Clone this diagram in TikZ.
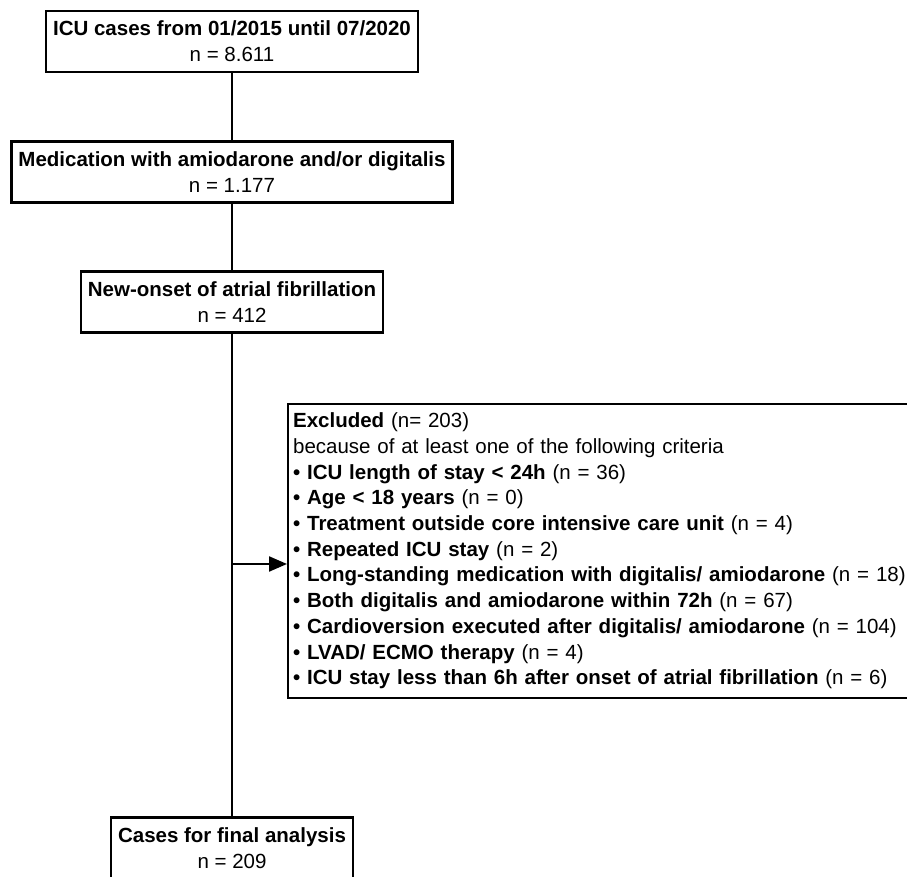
\documentclass[tikz,border=0pt]{standalone}
\usepackage{fontspec}
\setmainfont{Liberation Sans}
\usepackage{tikz}
\usetikzlibrary{arrows.meta, positioning, calc}

\tikzset{
    flowbox/.style={draw=black, line width=2.2pt, fill=white, align=center,
        inner xsep=7pt, inner ysep=2pt, minimum height=61pt,
        font=\fontsize{20.5}{25.7}\selectfont},
    exclbox/.style={draw=black, line width=2.2pt, fill=white, align=left, anchor=west,
        text width=614pt, inner xsep=5pt, minimum height=294pt,
        font=\fontsize{20.5}{25.7}\selectfont},
    flowline/.style={draw=black, line width=2.2pt},
}

\begin{document}
\begin{tikzpicture}[x=1pt, y=1pt]
    \useasboundingbox (0,0) rectangle (907,877);

    % main path
    \node[flowbox] (icu) at (232,835.5) {\textbf{ICU cases from 01/2015 until 07/2020}\\n = 8.611};
    \node[flowbox] (medi) at (232,705) {\textbf{Medication with amiodarone and/or digitalis}\\n = 1.177};
    \node[flowbox] (onset) at (232,575) {\textbf{New-onset of atrial fibrillation}\\n = 412};
    \node[flowbox] (final) at (232,29) {\textbf{Cases for final analysis}\\n = 209};

    % exclusions
    \node[exclbox] (excl) at (287,326) {
        \textbf{Excluded} (n= 203)\\
        because of at least one of the following criteria\\
        \textbf{• ICU length of stay < 24h} (n = 36)\\
        \textbf{• Age < 18 years} (n = 0)\\
        \textbf{• Treatment outside core intensive care unit} (n = 4)\\
        \textbf{• Repeated ICU stay} (n = 2)\\
        \textbf{• Long-standing medication with digitalis/ amiodarone} (n = 18)\\
        \textbf{• Both digitalis and amiodarone within 72h} (n = 67)\\
        \textbf{• Cardioversion executed after digitalis/ amiodarone} (n = 104)\\
        \textbf{• LVAD/ ECMO therapy} (n = 4)\\
        \textbf{• ICU stay less than 6h after onset of atrial fibrillation} (n = 6)
    };

    \coordinate (split) at (232,313);

    \draw[flowline] (icu.south) -- (medi.north);
    \draw[flowline] (medi.south) -- (onset.north);
    \draw[flowline] (onset.south) -- (final.north);
    \draw[flowline, -{Triangle[length=18pt, width=15pt]}] (split) -- (split -| excl.west);
\end{tikzpicture}
\end{document}
